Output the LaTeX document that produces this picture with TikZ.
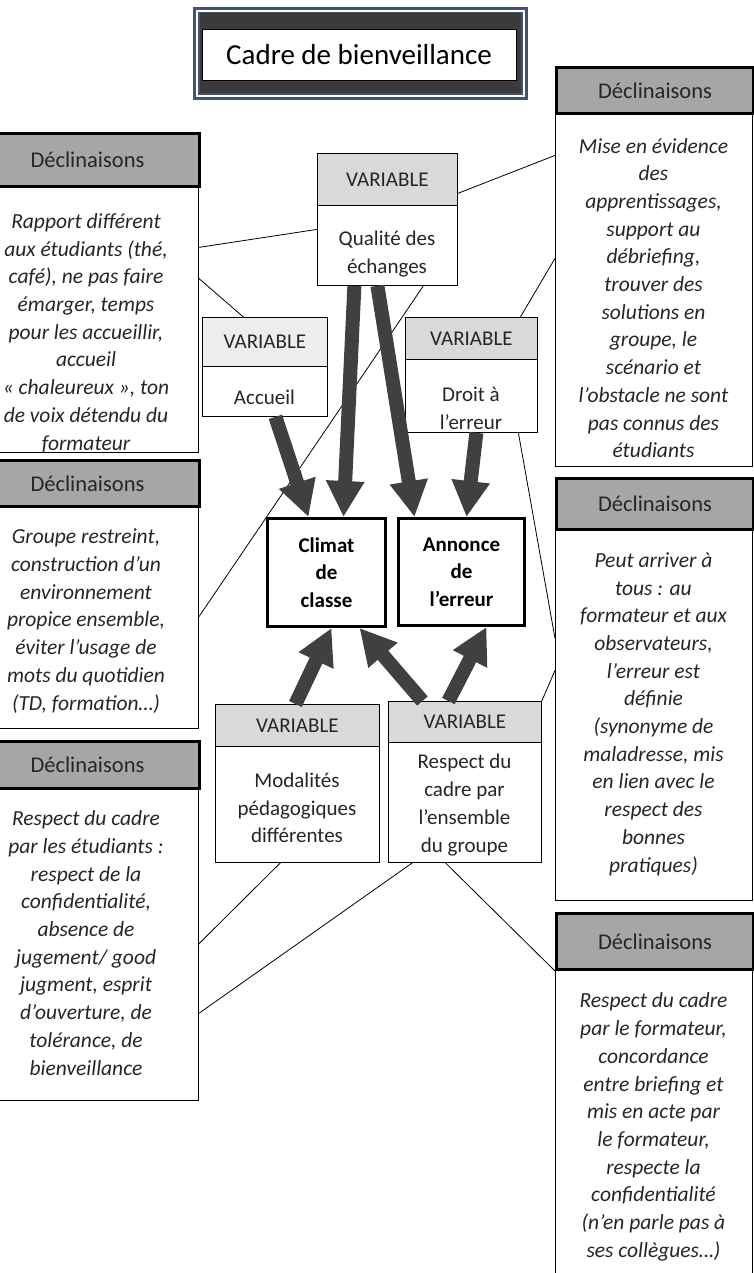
\documentclass[tikz,border=0pt]{standalone}
\usepackage{fontspec}
\setmainfont{Carlito}
\usetikzlibrary{arrows.meta,positioning}
\definecolor{slate}{HTML}{44546A}
\definecolor{darkbox}{HTML}{3B3B3B}
\definecolor{declgray}{HTML}{A6A6A6}
\definecolor{vargray}{HTML}{D9D9D9}
\definecolor{varlight}{HTML}{EDEDED}
\definecolor{arrowgray}{HTML}{404040}
\definecolor{textgray}{HTML}{262626}

\begin{document}
\begin{tikzpicture}[x=1pt,y=-1pt,
  declhead/.style={draw,line width=3pt,fill=declgray,anchor=north west,text=textgray,font=\fontsize{22.5}{26}\selectfont},
  declbody/.style={draw,line width=0.8pt,fill=white,anchor=north west},
  decltext/.style={align=center,text=textgray,font=\fontsize{21.5}{27.7}\selectfont\itshape},
  varhead/.style={draw,line width=0.8pt,fill=vargray,anchor=north west,text=textgray,font=\fontsize{21}{26}\selectfont},
  varbody/.style={draw,line width=0.8pt,fill=white,anchor=north west},
  vartext/.style={align=center,text=textgray,font=\fontsize{21}{27.7}\selectfont},
  result/.style={draw,line width=3pt,fill=white,anchor=north west,align=center,font=\fontsize{21}{27.5}\selectfont\bfseries},
  link/.style={line width=0.8pt},
  bigarrow/.style={draw=arrowgray,line width=14pt,-{Triangle[length=36pt,width=36pt]}}]
\useasboundingbox (0,0) rectangle (754,1273);

\fill[slate] (193,7) rectangle (528,100);
\draw[white,line width=1.2pt] (197,11) rectangle (524,96);
\fill[darkbox] (200,13) rectangle (521,93);
\node[draw,fill=white,line width=0.8pt,minimum width=314,minimum height=51,font=\fontsize{29}{34}\selectfont] (title) at (359,55) {Cadre de bienveillance};

\node[declbody,minimum width=224,minimum height=267] (b1) at (-26,185) {};
\node[declhead,minimum width=224,minimum height=53] (h1) at (-26,132) {Déclinaisons};
\node[decltext] (t1) at (86,333) {Rapport différent\\aux étudiants (thé,\\café), ne pas faire\\émarger, temps\\pour les accueillir,\\accueil\\« chaleureux », ton\\de voix détendu du\\formateur};
\node[declbody,minimum width=224,minimum height=223] (b2) at (-26,505) {};
\node[declhead,minimum width=224,minimum height=46] (h2) at (-26,459) {Déclinaisons};
\node[decltext] (t2) at (86,621) {Groupe restreint,\\construction d’un\\environnement\\propice ensemble,\\éviter l’usage de\\mots du quotidien\\(TD, formation…)};
\node[declbody,minimum width=224,minimum height=313] (b3) at (-26,787) {};
\node[declhead,minimum width=224,minimum height=47] (h3) at (-26,740) {Déclinaisons};
\node[decltext] (t3) at (86,943) {Respect du cadre\\par les étudiants :\\respect de la\\confidentialité,\\absence de\\jugement/ good\\jugment, esprit\\d’ouverture, de\\tolérance, de\\bienveillance};

\node[declbody,minimum width=197,minimum height=354] (r1b) at (555,112) {};
\node[declhead,minimum width=197,minimum height=46] (r1h) at (555,66) {Déclinaisons};
\node[decltext] (r1t) at (653.5,298) {Mise en évidence\\des\\apprentissages,\\support au\\débriefing,\\trouver des\\solutions en\\groupe, le\\scénario et\\l’obstacle ne sont\\pas connus des\\étudiants};
\node[declbody,minimum width=197,minimum height=372] (r2b) at (555,528) {};
\node[declhead,minimum width=197,minimum height=51] (r2h) at (555,477) {Déclinaisons};
\node[decltext] (r2t) at (653.5,714) {Peut arriver à\\tous : au\\formateur et aux\\observateurs,\\l’erreur est\\définie\\(synonyme de\\maladresse, mis\\en lien avec le\\respect des\\bonnes\\pratiques)};
\node[declbody,minimum width=197,minimum height=312] (r3b) at (555,968) {};
\node[declhead,minimum width=197,minimum height=56] (r3h) at (555,912) {Déclinaisons};
\node[decltext] (r3t) at (653.5,1127) {Respect du cadre\\par le formateur,\\concordance\\entre briefing et\\mis en acte par\\le formateur,\\respecte la\\confidentialité\\(n’en parle pas à\\ses collègues…)};

\node[varbody,minimum width=140,minimum height=80] (qb) at (317,205) {};
\node[varhead,minimum width=140,minimum height=52] (qh) at (317,153) {VARIABLE};
\node[vartext] (qt) at (387,254) {Qualité des\\échanges};
\node[varbody,minimum width=125,minimum height=50] (acb) at (202,366) {};
\node[varhead,fill=varlight,minimum width=125,minimum height=49] (ach) at (202,317) {VARIABLE};
\node[vartext] (act) at (264.5,397) {Accueil};
\node[varbody,minimum width=132,minimum height=73] (db) at (405,359) {};
\node[varhead,minimum width=132,minimum height=42] (dh) at (405,317) {VARIABLE};
\node[vartext] (dt) at (471,408) {Droit à\\l’erreur};
\node[varbody,minimum width=164,minimum height=116] (mb) at (215,746) {};
\node[varhead,minimum width=164,minimum height=42] (mh) at (215,704) {VARIABLE};
\node[vartext] (mt) at (297,808) {Modalités\\pédagogiques\\différentes};
\node[varbody,minimum width=153,minimum height=120] (rb) at (388,742) {};
\node[varhead,minimum width=153,minimum height=41] (rh) at (388,701) {VARIABLE};
\node[vartext] (rt) at (464.5,805) {Respect du\\cadre par\\l’ensemble\\du groupe};

\node[result,minimum width=118,minimum height=108] (cl) at (266,517) {Climat\\de\\classe};
\node[result,minimum width=126,minimum height=107] (an) at (397,517) {Annonce\\de\\l’erreur};

\draw[link] ([yshift=16pt]qb.west) -- ([yshift=71.5pt]b1.east);
\draw[link] ([xshift=-21.5pt]ach.north) -- ([yshift=40.5pt]b1.east);
\draw[link] ([xshift=36pt]qb.south) -- (b2.east);
\draw[link] ([yshift=-14pt]qh.east) -- ([yshift=134pt]r1b.west);
\draw[link] ([xshift=49pt]dh.north) -- ([yshift=31pt]r1b.west);
\draw[link] ([xshift=47pt]db.south) -- ([yshift=76pt]r2b.west);
\draw[link] (rh.north east) -- ([yshift=44pt]r2b.west);
\draw[link] ([xshift=-17pt]mb.south) -- (b3.east);
\draw[link] ([xshift=-52.5pt]rb.south) -- ([yshift=-69.5pt]b3.east);
\draw[link] ([xshift=-19.5pt]rb.south) -- (r3h.south west);

\draw[bigarrow] ([xshift=10.5pt]acb.south) -- ([xshift=-18pt]cl.north);
\draw[bigarrow] ([xshift=-33pt]qb.south) -- ([xshift=17pt]cl.north);
\draw[bigarrow] ([xshift=-10pt]qb.south) -- ([xshift=-47pt]an.north);
\draw[bigarrow] ([xshift=5pt]db.south) -- ([xshift=5pt]an.north);
\draw[bigarrow] ([xshift=-2pt]mh.north) -- ([xshift=5pt]cl.south);
\draw[bigarrow] ([xshift=-42.5pt]rh.north) -- ([xshift=33pt]cl.south);
\draw[bigarrow] ([xshift=-16.5pt]rh.north) -- ([xshift=25pt]an.south);
\end{tikzpicture}
\end{document}
